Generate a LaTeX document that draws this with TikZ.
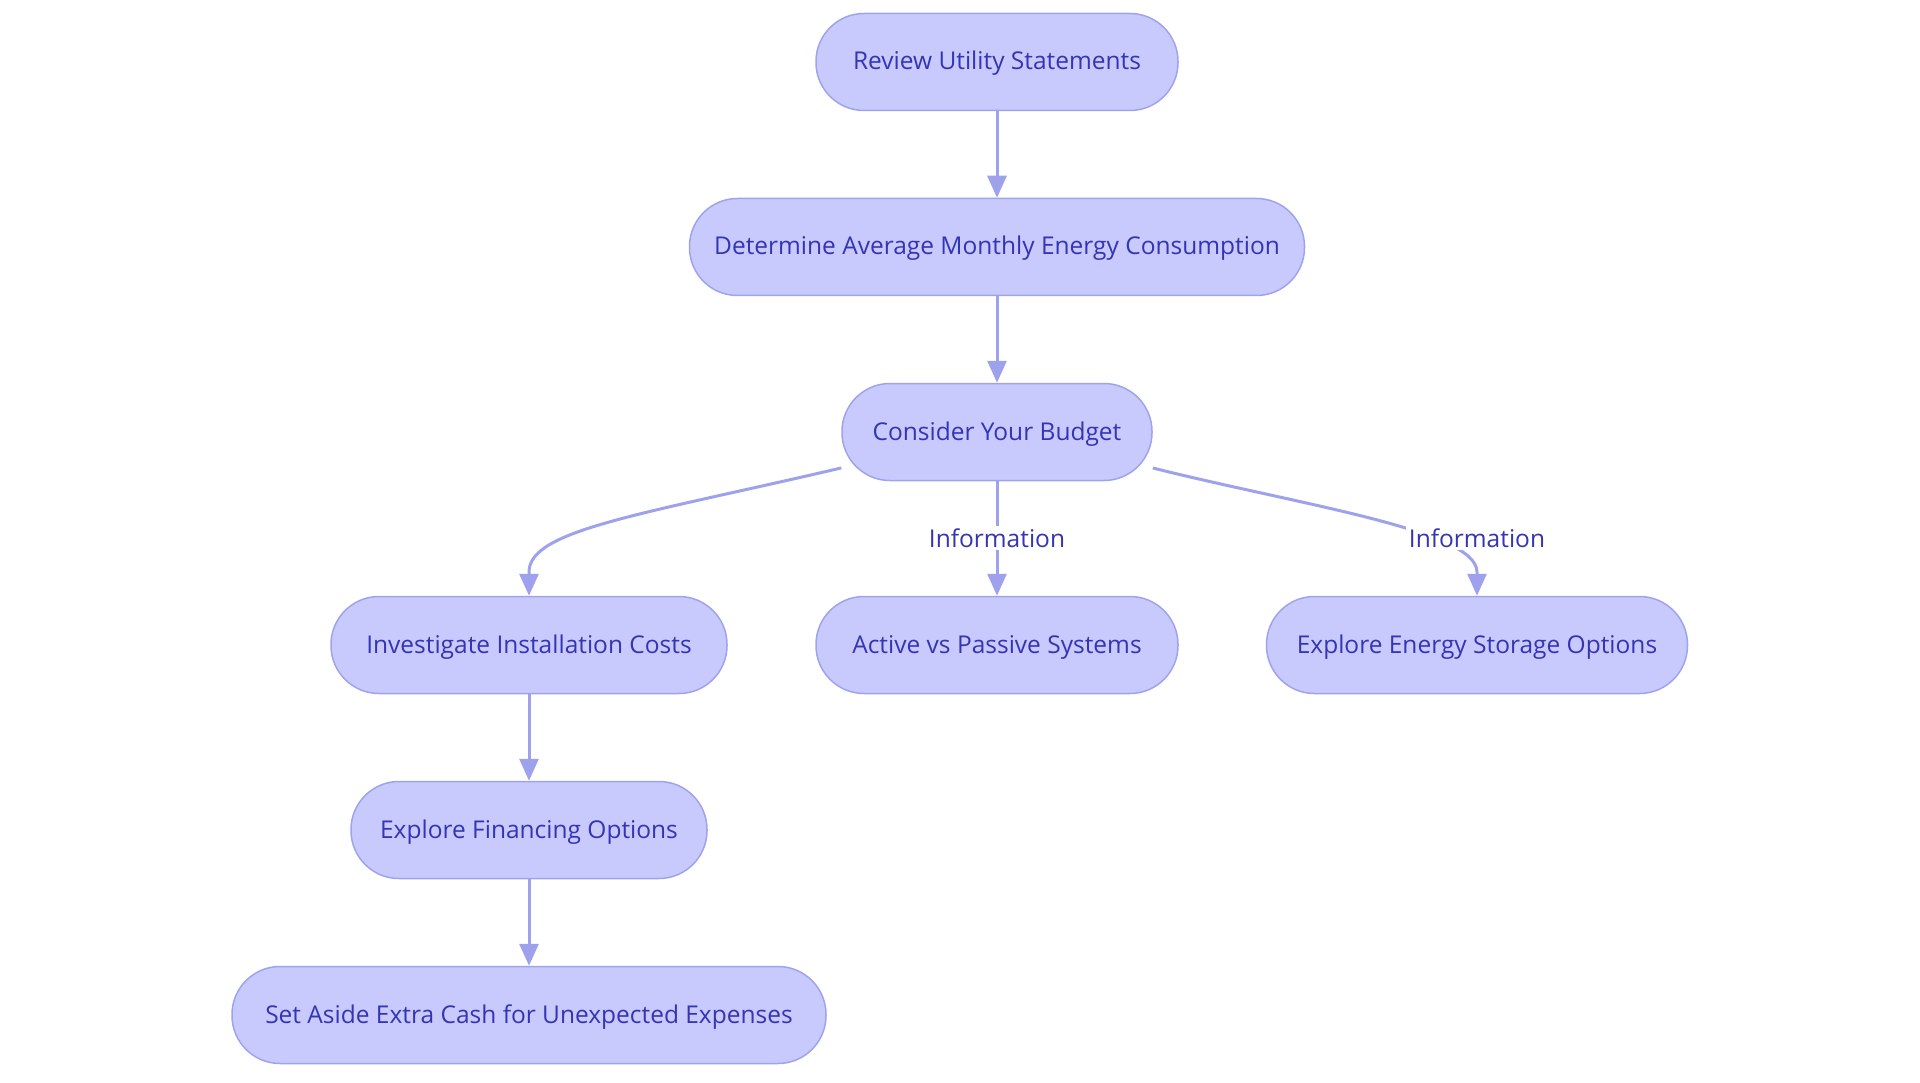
\documentclass[tikz,border=0pt]{standalone}
\usepackage{fontspec}
\setmainfont{Open Sans}
\usetikzlibrary{arrows.meta}
\definecolor{boxfill}{HTML}{C8CAFE}
\definecolor{boxline}{HTML}{9FA3EB}
\definecolor{boxtext}{HTML}{3434B4}
\definecolor{linkcol}{HTML}{9EA1EC}

\begin{document}
\begin{tikzpicture}[x=1pt,y=-1pt,
  step node/.style={rectangle,rounded corners=48pt,fill=boxfill,draw=boxline,line width=1.5pt,
    minimum height=97pt,inner xsep=20pt,text height=18pt,text depth=2pt,text=boxtext,font=\fontsize{24.5}{28}\selectfont},
  link/.style={draw=linkcol,line width=3pt,-{Triangle[length=22pt,width=19pt]}},
  info/.style={fill=white,text=boxtext,inner sep=3pt,font=\fontsize{24.5}{28}\selectfont}]
  \useasboundingbox (0,0) rectangle (1920,1083);
  \node[step node,minimum width=362pt] (review) at (997,62) {Review Utility Statements};
  \node[step node,minimum width=615pt] (determine) at (997,247) {Determine Average Monthly Energy Consumption};
  \node[step node,minimum width=310pt] (budget) at (997,432) {Consider Your Budget};
  \node[step node,minimum width=396pt] (install) at (529,645) {Investigate Installation Costs};
  \node[step node,minimum width=362pt] (active) at (997,645) {Active vs Passive Systems};
  \node[step node,minimum width=421pt] (storage) at (1477,645) {Explore Energy Storage Options};
  \node[step node,minimum width=356pt] (financing) at (529,830) {Explore Financing Options};
  \node[step node,minimum width=594pt] (extra) at (529,1015) {Set Aside Extra Cash for Unexpected Expenses};

\path
  (review) edge[link] (determine)
  (determine) edge[link] (budget)
  (install) edge[link] (financing)
  (financing) edge[link] (extra)
  (budget) edge[link] (active)
;
  \draw[link] (budget.193) .. controls (640,515) and (529,530) .. (529,572) -- (install.north);
  \draw[link] (budget.-13) .. controls (1300,505) and (1477,530) .. (1477,572) -- (storage.north);
  \node[info] (infoA) at (997,538) {Information};
  \node[info] (infoB) at (1477,538) {Information};
\end{tikzpicture}
\end{document}
